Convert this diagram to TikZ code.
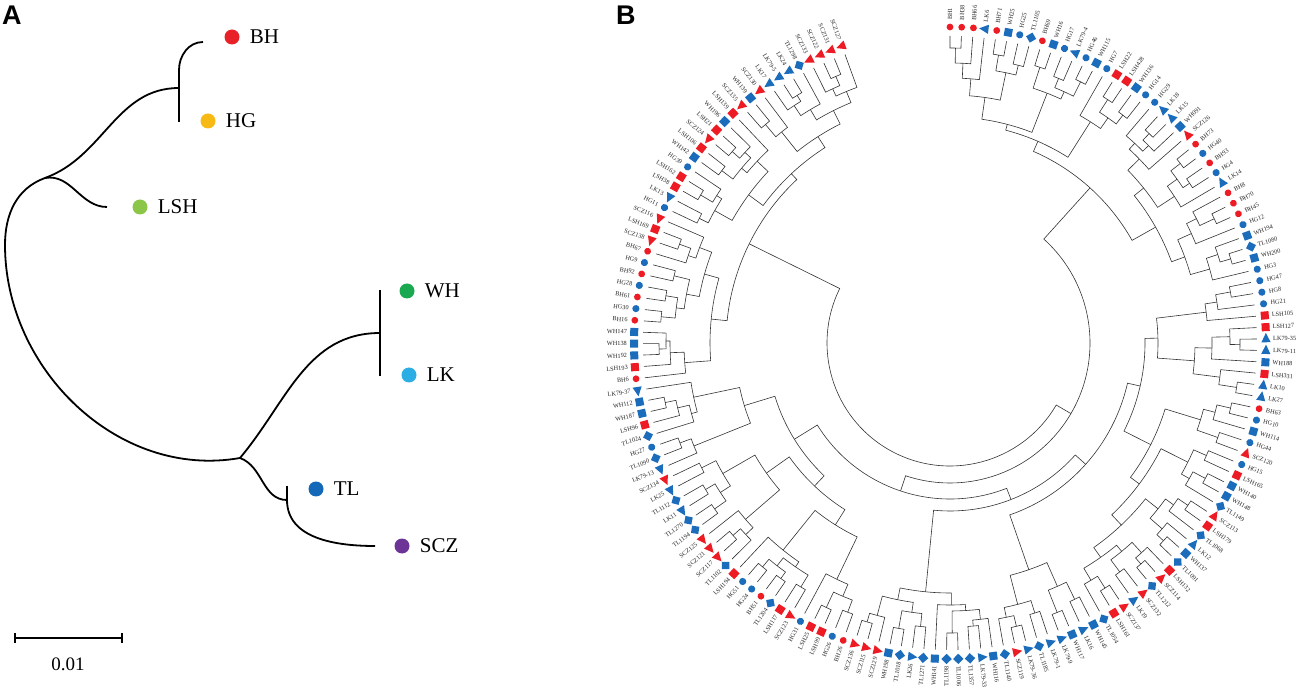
\documentclass[tikz,border=0pt]{standalone}
\usepackage{fontspec}
\setmainfont{Liberation Serif}
\newfontfamily\panelfont{Liberation Sans}
\usetikzlibrary{calc}

\definecolor{grpred}{RGB}{237,28,36}
\definecolor{grpblue}{RGB}{28,108,188}
\definecolor{colBH}{RGB}{232,32,40}
\definecolor{colHG}{RGB}{247,186,20}
\definecolor{colLSH}{RGB}{140,198,72}
\definecolor{colWH}{RGB}{26,168,80}
\definecolor{colLK}{RGB}{44,174,228}
\definecolor{colTL}{RGB}{20,104,184}
\definecolor{colSCZ}{RGB}{108,52,150}

% markers for the circular tree (drawn in a frame turned to the leaf)
\def\mkrc{\fill[grpred] (0,0) circle (3.4pt);}
\def\mkbc{\fill[grpblue] (0,0) circle (3.6pt);}
\def\mkrs{\fill[grpred] (-4pt,-4pt) rectangle (4pt,4pt);}
\def\mkbs{\fill[grpblue] (-4pt,-4pt) rectangle (4pt,4pt);}
\def\mkbd{\fill[grpblue] (0,-5.2pt) -- (5.2pt,0) -- (0,5.2pt) -- (-5.2pt,0) -- cycle;}
\def\mkrt{\fill[grpred] (0,6pt) -- (-4.6pt,-3.4pt) -- (4.6pt,-3.4pt) -- cycle;}
\def\mkbt{\fill[grpblue] (0,6pt) -- (-4.6pt,-3.4pt) -- (4.6pt,-3.4pt) -- cycle;}

% stack for joining neighbour leaves into clades
\newcount\stkn
\newif\ifmerging
\def\tiprad{307}
\def\domerge{%
  \edef\lA{\csname stkA\the\stkn\endcsname}%
  \edef\lR{\csname stkR\the\stkn\endcsname}%
  \draw[treeline] (\lA:\lR pt) -- (\lA:\topG pt)
    arc[start angle=\lA, end angle=\curA, radius=\topG pt] -- (\curA:\curR pt);
  \pgfmathsetmacro\newA{(\lA+\curA)/2}%
  \xdef\curA{\newA}\xdef\curR{\topG}%
  \global\advance\stkn by -1\relax}
\def\mergeloop{%
  \global\mergingfalse
  \ifnum\stkn>0
    \edef\topG{\csname stkG\the\stkn\endcsname}%
    \ifdim\topG pt<\curG pt\relax\else\global\mergingtrue\fi
  \fi
  \ifmerging\domerge\expandafter\mergeloop\fi}

\begin{document}
\begin{tikzpicture}[x=1pt, y=1pt,
  treeline/.style={draw=black!80, line width=0.6pt},
  branch/.style={draw=black, line width=1.8pt},
  leaflbl/.style={inner sep=0pt, font=\fontsize{6.3}{7}\selectfont, text=black!85},
  grplbl/.style={anchor=west, inner sep=0pt, font=\fontsize{21}{24}\selectfont},
  grpdot/.style={circle, minimum size=15pt, inner sep=0pt},
  panel/.style={anchor=north west, inner sep=0pt, font=\panelfont\bfseries\fontsize{27}{30}\selectfont}]

\useasboundingbox (0,0) rectangle (1302,697);

% === A: tree of the seven groups ===
\begin{scope}[shift={(0,697)}, y=-1pt]
  \node[panel] (labA) at (2,6) {A};
  \coordinate (root) at (5,245);
  \coordinate (up)   at (45,178);
  \coordinate (bhhg) at (179,88);
  \coordinate (bhst) at (179,70);
  \coordinate (bht)  at (203,42);
  \coordinate (hgt)  at (179,122);
  \coordinate (lsht) at (107,207);
  \coordinate (low)  at (240,458);
  \coordinate (whlk) at (380,333);
  \coordinate (wht)  at (380,290);
  \coordinate (lkt)  at (380,376);
  \coordinate (tlscz) at (287,500);
  \coordinate (tlt)  at (287,486);
  \coordinate (sczt) at (375,546);

  \draw[branch] (root) to[out=90, in=200] (up);
  \draw[branch] (up) to[out=20, in=180] (bhhg);
  \draw[branch] (bhst) to[out=90, in=180] (bht);
  \draw[branch] (bhst) -- (hgt);
  \draw[branch] (up) to[out=10, in=180] (lsht);
  \draw[branch] (root) to[out=-90, in=190] (low);
  \draw[branch] (low) to[out=50, in=180] (whlk);
  \draw[branch] (wht) -- (lkt);
  \draw[branch] (low) to[out=-20, in=180] (tlscz);
  \draw[branch] (tlt) -- (tlscz);
  \draw[branch] (tlscz) to[out=-90, in=180] (sczt);

  \node[grpdot, fill=colBH]  (dBH)  at (232,37)  {};
  \node[grpdot, fill=colHG]  (dHG)  at (208,121) {};
  \node[grpdot, fill=colLSH] (dLSH) at (140,207) {};
  \node[grpdot, fill=colWH]  (dWH)  at (407,291) {};
  \node[grpdot, fill=colLK]  (dLK)  at (409,375) {};
  \node[grpdot, fill=colTL]  (dTL)  at (316,489) {};
  \node[grpdot, fill=colSCZ] (dSCZ) at (402,546) {};
  \node[grplbl] at ($(dBH.east)+(10,0)$)  {BH};
  \node[grplbl] at ($(dHG.east)+(10,0)$)  {HG};
  \node[grplbl] at ($(dLSH.east)+(10,0)$) {LSH};
  \node[grplbl] at ($(dWH.east)+(10,0)$)  {WH};
  \node[grplbl] at ($(dLK.east)+(10,0)$)  {LK};
  \node[grplbl] at ($(dTL.east)+(10,0)$)  {TL};
  \node[grplbl] at ($(dSCZ.east)+(10,0)$) {SCZ};

  % scale bar
  \coordinate (sb1) at (15,638);
  \coordinate (sb2) at (122,638);
  \draw[line width=1.3pt] (sb1) -- (sb2);
  \draw[line width=1.3pt] ($(sb1)+(0,-5)$) -- ($(sb1)+(0,5)$);
  \draw[line width=1.3pt] ($(sb2)+(0,-5)$) -- ($(sb2)+(0,5)$);
  \node[font=\fontsize{19}{22}\selectfont] (sblbl) at (68,664) {0.01};

  \node[panel] (labB) at (616,6) {B};
\end{scope}

% === B: circular tree of all isolates ===
\begin{scope}[shift={(950,354)}]
  \global\stkn=0
  \foreach \nm/\mk/\gp [count=\i] in {
    BH1/rc/295, BH38/rc/280, BH66/rc/265, LK6/bt/248, BH71/rc/292,
    WH25/bs/276, HG25/bc/286, TL1105/bd/226, BH69/rc/290, WH16/bs/268,
    HG17/bc/286, LK79-4/bt/276, HG46/bc/292, WH115/bs/220, HG7/bc/262,
    LSH22/rs/290, LSH428/rs/275, WH136/bs/286, HG14/bc/209, HG29/bc/272,
    LK18/bt/289, LK15/bt/280, WH091/bs/264, SCZ126/rt/248, BH73/rc/292,
    HG40/bc/280, BH93/rc/288, HG4/bc/268, LK14/bt/236, BH8/rc/276,
    BH70/rc/292, BH45/rc/265, HG12/bc/250, WH194/bs/282, TL1080/bd/293,
    WH200/bs/270, HG3/bc/140, HG47/bc/285, HG8/bc/270, HG21/bc/258,
    LSH105/rs/208, LSH127/rs/280, LK79-35/bt/290, LK79-11/bt/262, WH188/bs/245,
    LSH331/rs/272, LK10/bt/290, LK27/bt/195, BH63/rc/288, HG10/bc/274,
    WH114/bs/262, HG44/bc/284, SCZ120/rt/225, HG15/bc/280, LSH165/rs/266,
    WH140/bs/289, WH148/bs/275, TL1149/bd/236, SCZ113/rt/288, LSH179/rs/276,
    TL1068/bd/266, LK12/bt/282, WH137/bs/291, TL1091/bd/250, LSH132/rs/284,
    SCZ114/rt/292, TL1212/bd/270, SCZ132/rt/285, LK19/bt/262, SCZ137/rt/290,
    LSH161/rs/276, TL1054/bd/182, WH145/bs/285, LK16/bt/266, WH117/bs/290,
    LK79-9/bt/240, LK79-1/bt/283, TL1185/bd/270, LK79-36/bt/291, SCZ119/rt/280,
    TL1140/bd/168, WH116/bs/278, LK79-33/bt/284, TL1357/bd/268, TL1006/bd/290,
    TL1198/bd/262, WH141/bs/250, TL1271/bd/285, LK26/bt/272, TL1018/bd/290,
    WH198/bs/262, SCZ129/rt/282, SCZ115/rt/291, SCZ136/rt/156, BH26/rc/288,
    HG26/bc/275, LSH99/rs/292, LSH25/rs/262, HG31/bc/215, SCZ123/rt/286,
    LSH117/rs/272, TL1204/bd/290, BH51/rc/282, HG24/bc/292, HG51/bc/266,
    LSH194/rs/197, TL1102/bd/280, SCZ117/rt/290, SCZ121/rt/270, SCZ125/rt/225,
    TL1194/bd/288, TL1270/bd/274, LK11/bt/285, TL1112/bd/262, LK25/bt/278,
    SCZ134/rt/183, LK79-13/bt/276, TL1090/bd/288, HG27/bc/215, TL1024/bd/268,
    LSH96/rs/280, WH187/bs/291, WH112/bs/262, LK79-37/bt/123, BH6/rc/266,
    LSH193/rs/280, WH192/bs/291, WH138/bs/284, WH147/bs/240, BH16/rc/290,
    HG30/bc/276, BH61/rc/288, HG28/bc/268, BH92/rc/284, HG9/bc/255,
    BH67/rc/276, SCZ138/rt/288, LSH169/rs/268, SCZ116/rt/224, HG11/bc/280,
    LK13/bt/270, LSH38/rs/290, LSH162/rs/276, HG39/bc/250, WH142/bs/286,
    LSH106/rs/272, SCZ124/rt/290, LSH21/rs/280, WH196/bs/265, LSH139/rs/232,
    SCZ135/rt/286, WH139/bs/270, SCZ130/rt/245, LK17/bt/284, LK79-5/bt/291,
    LK24/bt/272, TL1298/bd/260, SCZ133/rt/280, SCZ122/rt/290, SCZ131/rt/272,
    SCZ127/rt/-1}{
    \pgfmathsetmacro\ang{90-2.125*(\i-1)}
    % marker, turned with the leaf
    \begin{scope}[shift={(\ang:316pt)}, rotate=\ang]
      \csname mk\mk\endcsname
    \end{scope}
    % label, read outward on the right half, inward on the left half
    \ifdim\ang pt<-90pt
      \pgfmathsetmacro\rot{\ang+180}
      \node[leaflbl, anchor=east, rotate=\rot] (lf\i) at (\ang:323pt) {\nm};
    \else
      \node[leaflbl, anchor=west, rotate=\ang] (lf\i) at (\ang:323pt) {\nm};
    \fi
    % join this leaf into the clades on its left
    \xdef\curA{\ang}\xdef\curR{\tiprad}\xdef\curG{\gp}
    \mergeloop
    \global\advance\stkn by 1
    \expandafter\xdef\csname stkA\the\stkn\endcsname{\curA}
    \expandafter\xdef\csname stkR\the\stkn\endcsname{\curR}
    \expandafter\xdef\csname stkG\the\stkn\endcsname{\curG}
  }
\end{scope}

\end{tikzpicture}
\end{document}
